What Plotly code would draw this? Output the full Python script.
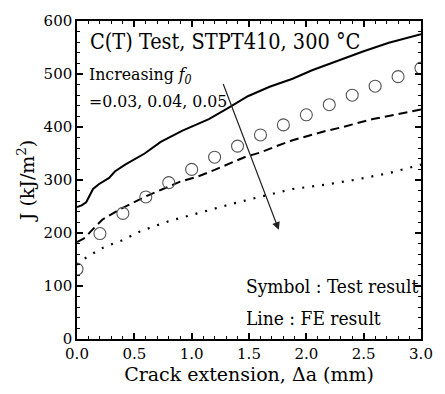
import plotly.graph_objects as go

# Test result (symbols)
test_x = [0.0, 0.2, 0.4, 0.6, 0.8, 1.0, 1.2, 1.4, 1.6, 1.8, 2.0, 2.2, 2.4, 2.6, 2.8, 3.0]
test_j = [132, 199, 237, 268, 295, 320, 343, 364, 385, 404, 423, 442, 460, 477, 495, 511]

# FE results, f0 = 0.03 (solid)
fe03_x = [0, 0.04, 0.08, 0.11, 0.14, 0.19, 0.28, 0.33, 0.42, 0.59, 0.73, 0.92, 1.15, 1.32, 1.49, 1.68, 1.88, 2.05, 2.27, 2.5, 2.72, 2.97, 3.0]
fe03_j = [249, 252, 258, 271, 283, 292, 304, 316, 329, 350, 372, 393, 415, 436, 458, 476, 491, 507, 525, 543, 559, 573, 575]

# FE results, f0 = 0.04 (dashed)
fe04_x = [0, 0.07, 0.12, 0.22, 0.36, 0.5, 0.61, 0.75, 0.9, 1.06, 1.2, 1.46, 1.6, 1.74, 1.88, 2.16, 2.3, 2.58, 3.0]
fe04_j = [183, 191, 203, 225, 243, 258, 270, 283, 297, 307, 319, 343, 352, 364, 375, 392, 399, 415, 433]

# FE results, f0 = 0.05 (dotted)
fe05_x = [0, 0.05, 0.11, 0.2, 0.39, 0.56, 0.81, 1.09, 1.37, 1.65, 1.88, 2.16, 2.44, 2.72, 3.0]
fe05_j = [140, 150, 157, 170, 186, 204, 223, 240, 256, 271, 283, 291, 301, 313, 329]

FONT = "DejaVu Serif"
FONT_C = "DejaVu Serif Condensed, DejaVu Serif"

fig = go.Figure()
fig.add_trace(go.Scatter(x=fe03_x, y=fe03_j, mode="lines",
                         line=dict(color="black", width=2), showlegend=False))
fig.add_trace(go.Scatter(x=fe04_x, y=fe04_j, mode="lines",
                         line=dict(color="black", width=2, dash="9px,5px"), showlegend=False))
fig.add_trace(go.Scatter(x=fe05_x, y=fe05_j, mode="lines",
                         line=dict(color="black", width=2.2, dash="2px,8px"), showlegend=False))
fig.add_trace(go.Scatter(x=test_x, y=test_j, mode="markers", cliponaxis=True,
                         marker=dict(symbol="circle-open", size=12, color="#555",
                                     line=dict(width=1.1, color="#555")),
                         showlegend=False))
# empty trace so the mirrored (top/right) axes get drawn
fig.add_trace(go.Scatter(x=[], y=[], xaxis="x2", yaxis="y2", showlegend=False, hoverinfo="skip"))

tick_style = dict(
    showline=True, linecolor="black", linewidth=1.5,
    ticks="inside", ticklen=6, tickwidth=1.5, tickcolor="black",
    showgrid=False, zeroline=False,
)
xminor = dict(dtick=0.1, ticks="inside", ticklen=3, tickwidth=1.2, tickcolor="black", showgrid=False)
yminor = dict(dtick=20, ticks="inside", ticklen=3, tickwidth=1.2, tickcolor="black", showgrid=False)

fig.update_layout(
    xaxis=dict(range=[0, 3.0], dtick=0.5, tick0=0, tickformat=".1f", minor=xminor,
               tickfont=dict(family=FONT, size=15, color="black"), ticklabeloverflow="allow",
               title=dict(text="Crack extension, Δa (mm)", font=dict(family=FONT, size=19, color="black"),
                          standoff=6),
               **tick_style),
    yaxis=dict(range=[0, 600], dtick=100, tick0=0, minor=yminor,
               tickfont=dict(family=FONT, size=15, color="black"), ticklabeloverflow="allow",
               title=dict(text="J (kJ/m<sup>2</sup>)", font=dict(family=FONT, size=19, color="black"),
                          standoff=4),
               **tick_style),
    xaxis2=dict(range=[0, 3.0], dtick=0.5, tick0=0, minor=xminor, overlaying="x", side="top",
                anchor="y2", showticklabels=False, **tick_style),
    yaxis2=dict(range=[0, 600], dtick=100, tick0=0, minor=yminor, overlaying="y", side="right",
                anchor="x2", showticklabels=False, **tick_style),
)

ann_font = dict(family=FONT_C, color="black")
fig.add_annotation(x=0.093, y=561, xref="x", yref="y", text="C(T) Test, STPT410, 300 °C",
                   showarrow=False, xanchor="left", yanchor="middle", font=dict(size=21.5, **ann_font))
fig.add_annotation(x=0.084, y=497, xref="x", yref="y", text="Increasing <i>f<sub>0</sub></i>",
                   showarrow=False, xanchor="left", yanchor="middle", font=dict(size=17.5, **ann_font))
fig.add_annotation(x=0.084, y=449, xref="x", yref="y", text="=0.03, 0.04, 0.05",
                   showarrow=False, xanchor="left", yanchor="middle", font=dict(size=17.5, **ann_font))
fig.add_annotation(x=1.458, y=100, xref="x", yref="y", text="Symbol : Test result",
                   showarrow=False, xanchor="left", yanchor="middle", font=dict(size=19, **ann_font))
fig.add_annotation(x=1.458, y=39, xref="x", yref="y", text="Line : FE result",
                   showarrow=False, xanchor="left", yanchor="middle", font=dict(size=19, **ann_font))
# arrow indicating increasing f0
fig.add_annotation(x=1.76, y=206, ax=1.27, ay=484, xref="x", yref="y", axref="x", ayref="y",
                   text="", showarrow=True, arrowhead=2, arrowsize=1.3, arrowwidth=1.2,
                   arrowcolor="#222")

fig.update_layout(width=445, height=394, margin=dict(l=77, r=12, t=16, b=53),
                  paper_bgcolor="white", plot_bgcolor="white",
                  font=dict(family=FONT, color="black"))

fig.write_html("out.html")
